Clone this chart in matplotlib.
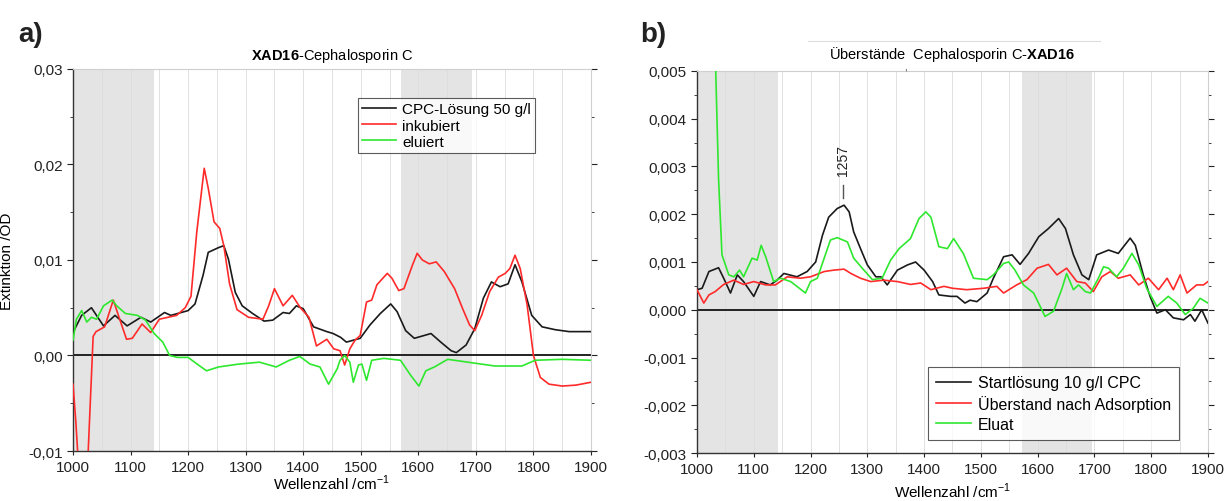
import numpy as np
import matplotlib
matplotlib.use("Agg")
import matplotlib.pyplot as plt
from matplotlib.ticker import MultipleLocator, FuncFormatter

plt.rcParams['font.family'] = ['Liberation Sans', 'DejaVu Sans']
plt.rcParams['mathtext.fontset'] = 'custom'
plt.rcParams['mathtext.rm'] = 'Liberation Sans'
plt.rcParams['mathtext.bf'] = 'Liberation Sans:bold'

# ---------- a) XAD16-Cephalosporin C ----------
a_black_x = [1000, 1015, 1032, 1053, 1073, 1094, 1118, 1135, 1159, 1170, 1200, 1212, 1226, 1235, 1253, 1262,
             1270, 1282, 1294, 1312, 1332, 1347, 1365, 1376, 1388, 1400, 1418, 1441, 1452, 1465, 1475, 1499,
             1516, 1534, 1552, 1563, 1578, 1593, 1622, 1639, 1657, 1666, 1683, 1698, 1713, 1727, 1742, 1756,
             1768, 1780, 1797, 1815, 1838, 1862, 1900]
a_black_y = [.0024, .0042, .0050, .0031, .0042, .0031, .0040, .0035, .0045, .0042, .0047, .0054, .0084, .0108,
             .0113, .0115, .0101, .0066, .0052, .0044, .0036, .0037, .0045, .0044, .0052, .0049, .0030, .0025,
             .0023, .0019, .0014, .0018, .0032, .0044, .0054, .0046, .0026, .0018, .0023, .0014, .0005, .0003,
             .0011, .0028, .0060, .0077, .0072, .0075, .0095, .0077, .0042, .0030, .0027, .0025, .0025]

a_red_x = [1000, 1005, 1010, 1025, 1035, 1040, 1055, 1070, 1080, 1093, 1103, 1120, 1135, 1150, 1165, 1180,
           1195, 1205, 1215, 1228, 1235, 1245, 1255, 1262, 1272, 1285, 1305, 1330, 1340, 1350, 1365, 1381,
           1395, 1410, 1423, 1441, 1453, 1464, 1472, 1481, 1490, 1499, 1510, 1519, 1528, 1546, 1554, 1566,
           1575, 1590, 1598, 1607, 1619, 1631, 1645, 1663, 1677, 1689, 1698, 1710, 1724, 1739, 1751, 1759,
           1768, 1777, 1789, 1800, 1812, 1827, 1850, 1874, 1900]
a_red_y = [-.0030, -.0070, -.0120, -.0120, .0020, .0025, .0030, .0058, .0040, .0017, .0018, .0033, .0024,
           .0038, .0040, .0042, .0050, .0062, .0129, .0196, .0175, .0140, .0133, .0115, .0075, .0048, .0040,
           .0038, .0052, .0070, .0052, .0063, .0050, .0040, .0010, .0017, .0007, .0005, -.0010, .0007, .0016,
           .0021, .0056, .0058, .0074, .0086, .0081, .0068, .0070, .0095, .0107, .0100, .0096, .0098, .0088,
           .0070, .0049, .0032, .0026, .0042, .0067, .0082, .0086, .0091, .0105, .0091, .0053, .0000, -.0023,
           -.0030, -.0032, -.0031, -.0028]

a_green_x = [1000, 1006, 1015, 1024, 1032, 1041, 1053, 1068, 1076, 1091, 1112, 1126, 1141, 1156, 1168, 1182,
             1200, 1218, 1232, 1253, 1288, 1324, 1353, 1376, 1394, 1412, 1429, 1444, 1459, 1464, 1472, 1481,
             1487, 1496, 1502, 1510, 1519, 1540, 1569, 1587, 1601, 1613, 1628, 1651, 1686, 1733, 1780, 1803,
             1850, 1900]
a_green_y = [.0016, .0038, .0047, .0035, .0040, .0038, .0052, .0058, .0052, .0044, .0042, .0037, .0023, .0014,
             .0000, -.0002, -.0002, -.0010, -.0016, -.0012, -.0009, -.0007, -.0012, -.0005, -.0001, -.0009,
             -.0012, -.0030, -.0014, -.0005, .0000, -.0007, -.0028, -.0010, -.0009, -.0026, -.0005, -.0003,
             -.0005, -.0021, -.0032, -.0016, -.0012, -.0004, -.0007, -.0011, -.0011, -.0005, -.0004, -.0005]

# ---------- b) Überstände Cephalosporin C-XAD16 ----------
b_black_x = [1000, 1009, 1021, 1038, 1047, 1059, 1071, 1082, 1100, 1112, 1129, 1141, 1153, 1176, 1194, 1209,
             1221, 1232, 1247, 1259, 1268, 1276, 1288, 1300, 1315, 1324, 1335, 1353, 1371, 1385, 1400, 1415,
             1426, 1447, 1458, 1472, 1481, 1493, 1511, 1522, 1540, 1555, 1569, 1584, 1602, 1619, 1637, 1649,
             1663, 1678, 1690, 1704, 1725, 1742, 1763, 1772, 1786, 1798, 1810, 1825, 1839, 1857, 1869, 1877,
             1889, 1900]
b_black_y = [.00042, .00045, .00080, .00088, .00066, .00035, .00073, .00059, .00028, .00059, .00052, .00062,
             .00076, .00069, .00080, .00100, .00156, .00194, .00212, .00219, .00205, .00163, .00128, .00094,
             .00069, .00069, .00052, .00083, .00094, .00100, .00083, .00059, .00031, .00028, .00028, .00014,
             .00020, .00017, .00035, .00066, .00111, .00115, .00095, .00118, .00153, .00170, .00191, .00170,
             .00115, .00073, .00063, .00115, .00125, .00118, .00150, .00135, .00073, .00028, -.00007, .00000,
             -.00017, -.00021, -.00010, -.00024, .00000, -.00028]

b_red_x = [1000, 1012, 1021, 1032, 1047, 1065, 1082, 1100, 1121, 1138, 1159, 1182, 1200, 1224, 1241, 1259,
           1271, 1288, 1306, 1329, 1353, 1376, 1394, 1412, 1435, 1450, 1475, 1505, 1528, 1540, 1563, 1581,
           1599, 1619, 1634, 1651, 1669, 1684, 1698, 1713, 1728, 1742, 1763, 1778, 1795, 1813, 1828, 1839,
           1851, 1863, 1880, 1892, 1900]
b_red_y = [.00042, .00014, .00031, .00038, .00053, .00062, .00053, .00059, .00052, .00052, .00069, .00066,
           .00069, .00080, .00083, .00085, .00076, .00066, .00059, .00062, .00059, .00053, .00056, .00042,
           .00049, .00045, .00042, .00045, .00049, .00035, .00052, .00063, .00087, .00095, .00073, .00087,
           .00059, .00056, .00038, .00069, .00080, .00066, .00073, .00052, .00066, .00042, .00066, .00042,
           .00073, .00035, .00052, .00052, .00059]

b_green_x = [1000, 1020, 1033, 1038, 1044, 1056, 1065, 1075, 1082, 1097, 1106, 1113, 1121, 1135, 1147, 1165,
             1176, 1191, 1200, 1212, 1224, 1235, 1247, 1265, 1276, 1291, 1309, 1326, 1341, 1356, 1376, 1391,
             1403, 1412, 1426, 1441, 1452, 1469, 1487, 1511, 1522, 1540, 1549, 1560, 1575, 1593, 1613, 1628,
             1643, 1651, 1663, 1672, 1684, 1693, 1707, 1716, 1725, 1739, 1751, 1766, 1778, 1792, 1810, 1830,
             1845, 1860, 1874, 1886, 1900]
b_green_y = [.0070, .0058, .0050, .00274, .00115, .00073, .00069, .00083, .00069, .00108, .00104, .00135,
             .00111, .00059, .00066, .00059, .00049, .00035, .00059, .00066, .00108, .00146, .00151, .00142,
             .00108, .00087, .00063, .00066, .00104, .00128, .00149, .00191, .00205, .00194, .00132, .00128,
             .00149, .00118, .00066, .00063, .00073, .00097, .00100, .00083, .00052, .00035, -.00014, -.00003,
             .00045, .00076, .00042, .00052, .00038, .00035, .00066, .00090, .00087, .00069, .00087, .00118,
             .00094, .00045, .00007, .00028, .00014, -.00010, .00003, .00024, .00014]

BLACK = '#1a1a1a'
RED = '#ff2a2a'
GREEN = '#2ee82e'
BAND = '#e4e4e4'

fig = plt.figure(figsize=(12.31, 5.02), dpi=100)
ax1 = fig.add_axes([0.0593, 0.0996, 0.4208, 0.761])
ax2 = fig.add_axes([0.5662, 0.0956, 0.4151, 0.761])


def style(ax, ymin, ymax, ymajor, yminor, decimals, bands, xpad):
    ax.set_xlim(1000, 1900)
    ax.set_ylim(ymin, ymax)
    for b0, b1 in bands:
        ax.axvspan(b0, b1, color=BAND, zorder=0, lw=0)
    for xv in range(1050, 1900, 50):
        ax.axvline(xv, color='#dcdcdc', lw=0.6, zorder=0.5)
    ax.axhline(0, color='#222222', lw=1.4, zorder=2)
    ax.xaxis.set_major_locator(MultipleLocator(100))
    ax.xaxis.set_minor_locator(MultipleLocator(50))
    ax.yaxis.set_major_locator(MultipleLocator(ymajor))
    ax.yaxis.set_minor_locator(MultipleLocator(yminor))
    zero = '0,' + '0' * decimals
    ax.yaxis.set_major_formatter(FuncFormatter(
        lambda v, p: ('%.*f' % (decimals, v)).replace('.', ',').replace('-' + zero, zero)))
    ax.tick_params(axis='both', which='both', direction='out', labelsize=11, colors='#222222', top=False)
    ax.tick_params(axis='y', which='both', right=True)
    ax.tick_params(axis='y', which='major', length=4)
    ax.tick_params(axis='y', which='minor', length=2)
    ax.tick_params(axis='x', which='major', length=3)
    ax.tick_params(axis='x', which='minor', length=0)
    for s in ['top', 'right']:
        ax.spines[s].set_color('#cfcfcf')
    for s in ['left', 'bottom']:
        ax.spines[s].set_color('#333333')
        ax.spines[s].set_linewidth(1.0)
    ax.set_xlabel('Wellenzahl /cm$^{-1}$', fontsize=11, labelpad=xpad)


style(ax1, -0.01, 0.03, 0.01, 0.005, 2, [(1000, 1141), (1570, 1693)], -1)
style(ax2, -0.003, 0.005, 0.001, 0.0005, 3, [(1000, 1142), (1572, 1695)], 3)

ax1.plot(a_black_x, a_black_y, color=BLACK, lw=1.2, label='CPC-Lösung 50 g/l', zorder=3)
ax1.plot(a_red_x, a_red_y, color=RED, lw=1.2, label='inkubiert', zorder=3)
ax1.plot(a_green_x, a_green_y, color=GREEN, lw=1.2, label='eluiert', zorder=3)
ax1.set_ylabel('Extinktion /OD', fontsize=11, labelpad=10)
ax1.set_title(r'$\mathbf{XAD16}$-Cephalosporin C', fontsize=10.5, pad=7)
leg1 = ax1.legend(loc='upper left', bbox_to_anchor=(0.535, 0.945), fontsize=11, frameon=True,
                  fancybox=False, handlelength=2.2, borderpad=0.3, labelspacing=0.15, handletextpad=0.4)
leg1.get_frame().set_edgecolor('#333333')
leg1.get_frame().set_linewidth(0.8)

ax2.plot(b_black_x, b_black_y, color=BLACK, lw=1.2, label='Startlösung 10 g/l CPC', zorder=3)
ax2.plot(b_red_x, b_red_y, color=RED, lw=1.2, label='Überstand nach Adsorption', zorder=3)
ax2.plot(b_green_x, b_green_y, color=GREEN, lw=1.2, label='Eluat', zorder=3)
ax2.set_title(r'Überstände  Cephalosporin C-$\mathbf{XAD16}$', fontsize=10.5, pad=9)
leg2 = ax2.legend(loc='upper left', bbox_to_anchor=(0.446, 0.233), fontsize=11.5, frameon=True,
                  fancybox=False, handlelength=2.2, borderpad=0.5, labelspacing=0.3, handletextpad=0.4,
                  borderaxespad=0.2)
leg2.get_frame().set_edgecolor('#333333')
leg2.get_frame().set_linewidth(0.8)

# peak marker 1257
ax2.plot([1257, 1257], [0.00234, 0.00262], color='#555555', lw=1.0, zorder=3)
ax2.text(1257, 0.00283, '1257', rotation=90, ha='center', va='bottom', fontsize=10, color='#222222')

# faint line above right title and stray comma
fig.add_artist(plt.Line2D([808 / 1231, 1100 / 1231], [1 - 42 / 502, 1 - 42 / 502], color='#dddddd', lw=0.8))
fig.text(905 / 1231, 1 - 63 / 502, ',', fontsize=7, ha='center', va='top', color='#222222')

fig.text(18 / 1231, 1 - 42 / 502, 'a)', fontsize=20, fontweight='bold', color='#222222')
fig.text(640 / 1231, 1 - 42 / 502, 'b)', fontsize=20, fontweight='bold', color='#222222')

fig.savefig('out.png', dpi=100)
